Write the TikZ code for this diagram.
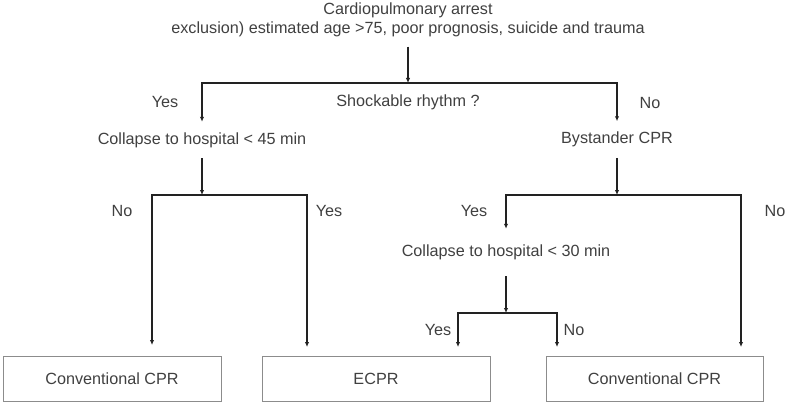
\documentclass[tikz,border=0pt]{standalone}
\usepackage{fontspec}
\setmainfont{Liberation Sans}
\usepackage{tikz}
\usetikzlibrary{arrows.meta}
\definecolor{txtgray}{HTML}{404040}
\definecolor{boxgray}{HTML}{8C8C8C}
\definecolor{linegray}{HTML}{222222}
\tikzset{
	lbl/.style={text=txtgray, font=\fontsize{16.2}{19}\selectfont, inner sep=0pt},
	cond/.style={lbl, inner xsep=2pt, inner ysep=10.5pt},
	endbox/.style={draw=boxgray, line width=0.8pt, text=txtgray, font=\fontsize{16.2}{19}\selectfont, minimum height=45pt},
	link/.style={draw=linegray, line width=1.3pt},
	arr/.style={link, -{Latex[length=5pt,width=4.5pt]}}
}

\begin{document}
\begin{tikzpicture}[x=1pt, y=-1pt]

	\useasboundingbox (0,0) rectangle (787,404);

	% questions
	\node[lbl, align=center, inner ysep=9.5pt] (arrest) at (408,20) {Cardiopulmonary arrest\\exclusion) estimated age >75, poor prognosis, suicide and trauma};
	\node[lbl] (shock) at (408,102) {Shockable rhythm ?};
	\node[cond] (col45) at (202,140) {Collapse to hospital < 45 min};
	\node[cond] (bys) at (617,139.5) {Bystander CPR};
	\node[cond, inner ysep=16pt] (col30) at (506,252.5) {Collapse to hospital < 30 min};

	% outcomes
	\node[endbox, minimum width=218pt] (conv1) at (112,378.5) {Conventional CPR};
	\node[endbox, minimum width=228pt] (ecpr) at (376,378.5) {ECPR};
	\node[endbox, minimum width=217pt] (conv2) at (654.5,378.5) {Conventional CPR};

	% junctions and arrow ends
	\coordinate (j0) at (408,83);
	\coordinate (j1) at (202,195);
	\coordinate (j2) at (617,195);
	\coordinate (j3) at (506,313);
	\coordinate (e1) at (152,345);
	\coordinate (e2) at (307,347);
	\coordinate (e3) at (458,347);
	\coordinate (e4) at (557,347);
	\coordinate (e5) at (741,347);

	\draw[arr] (arrest) -- (j0);
	\draw[arr] (j0) -| (col45);
	\draw[arr] (j0) -| (bys);

	\draw[arr] (col45) -- (j1);
	\draw[arr] (j1) -| (e1);
	\draw[arr] (j1) -| (e2);

	\draw[arr] (bys) -- (j2);
	\draw[arr] (j2) -| (col30);
	\draw[arr] (j2) -| (e5);

	\draw[arr] (col30) -- (j3);
	\draw[arr] (j3) -| (e3);
	\draw[arr] (j3) -| (e4);

	% yes / no
	\node[lbl] (y0) at (165,102) {Yes};
	\node[lbl] (n0) at (650,103) {No};
	\node[lbl] (n1) at (122,211) {No};
	\node[lbl] (y1) at (329,211) {Yes};
	\node[lbl] (y2) at (474,211) {Yes};
	\node[lbl] (n2) at (775,211) {No};
	\node[lbl] (y3) at (438,330) {Yes};
	\node[lbl] (n3) at (574,330) {No};

\end{tikzpicture}
\end{document}
